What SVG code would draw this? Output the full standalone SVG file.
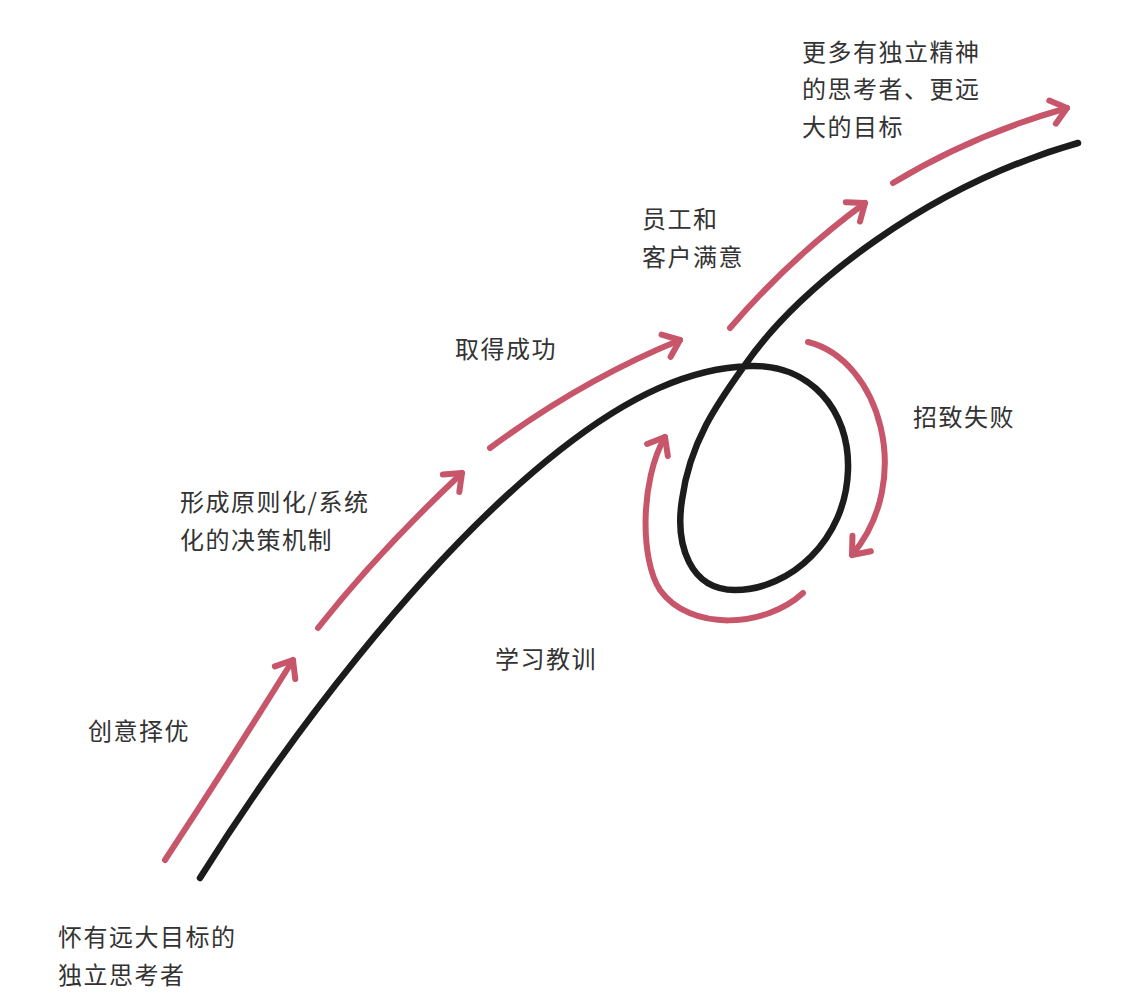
<svg xmlns="http://www.w3.org/2000/svg" width="1124" height="1008" viewBox="0 0 1124 1008">
<style>
.lbl{font-family:"Noto Sans CJK SC","Noto Sans",sans-serif;font-size:24px;fill:#333;letter-spacing:1.5px}
.red{fill:none;stroke:#c8566a;stroke-width:6;stroke-linecap:round;marker-end:url(#ah)}
.blk{fill:none;stroke:#1c1c1c;stroke-width:6.5;stroke-linecap:round}
</style>
<defs>
<marker id="ah" markerUnits="userSpaceOnUse" orient="auto" markerWidth="40" markerHeight="40" refX="0" refY="0" viewBox="-20 -20 40 40" overflow="visible">
<path d="M-15,-12 L0,0 L-15,12" fill="none" stroke="#c8566a" stroke-width="6" stroke-linecap="round" stroke-linejoin="round"/>
</marker>
</defs>
<rect width="1124" height="1008" fill="#fff"/>
<g id="connectors">
<path id="main-curve" class="blk" d="M200,878 C280,750 420,560 560,450 C630,395 690,368 750,366 C810,364 850,410 848,470 C846,540 790,590 735,590 C690,590 675,545 682,500 C690,440 720,400 745,365 C800,285 930,185 1078,143"/>
<path class="red" d="M165,860 Q232,758 293,660"/>
<path class="red" d="M318,628 Q378,552 462,473"/>
<path class="red" d="M490,448 Q582,380 680,340"/>
<path class="red" d="M730,328 Q790,258 865,203"/>
<path class="red" d="M893,183 Q972,135 1067,108"/>
<path class="red" d="M808,342 C880,360 915,480 852,555"/>
<path class="red" d="M803,593 C765,628 690,632 660,590 C640,560 640,480 665,437"/>
</g>
<g id="n-start"><text class="lbl" x="58" y="946">怀有远大目标的</text><text class="lbl" x="58" y="984">独立思考者</text></g>
<g id="n-idea"><text class="lbl" x="88" y="740">创意择优</text></g>
<g id="n-principle"><text class="lbl" x="180" y="511">形成原则化/系统</text><text class="lbl" x="180" y="549">化的决策机制</text></g>
<g id="n-success"><text class="lbl" x="455" y="358">取得成功</text></g>
<g id="n-satisfy"><text class="lbl" x="642" y="228">员工和</text><text class="lbl" x="642" y="266">客户满意</text></g>
<g id="n-goal"><text class="lbl" x="802" y="61">更多有独立精神</text><text class="lbl" x="802" y="98">的思考者、更远</text><text class="lbl" x="802" y="136">大的目标</text></g>
<g id="n-fail"><text class="lbl" x="913" y="426">招致失败</text></g>
<g id="n-learn"><text class="lbl" x="495" y="668">学习教训</text></g>
</svg>
